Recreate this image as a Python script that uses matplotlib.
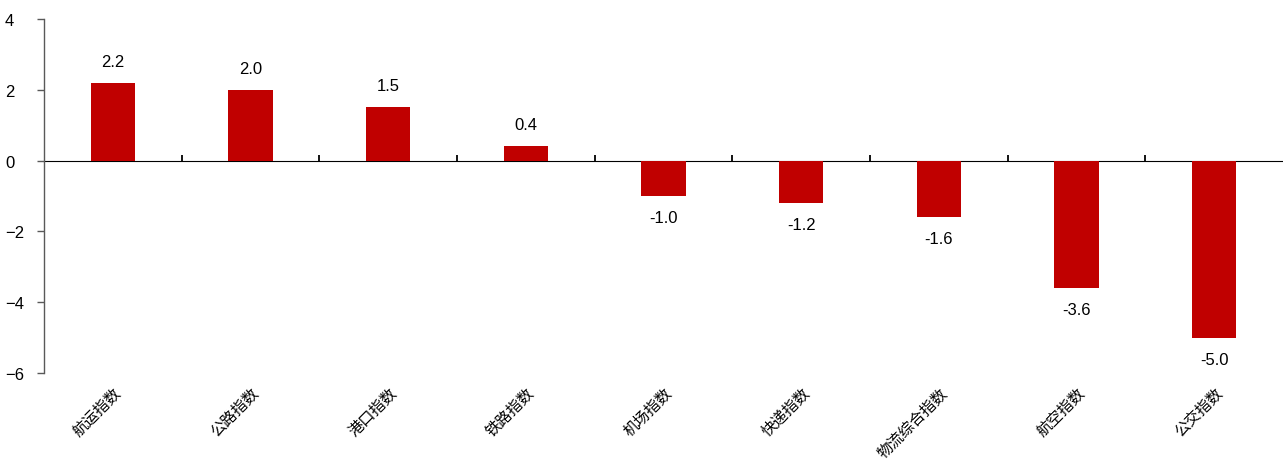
import numpy as np
import matplotlib.pyplot as plt

categories = ["航运指数", "公路指数", "港口指数", "铁路指数", "机场指数",
              "快递指数", "物流综合指数", "航空指数", "公交指数"]
values = [2.2, 2.0, 1.5, 0.4, -1.0, -1.2, -1.6, -3.6, -5.0]
y_ticks = [-6, -4, -2, 0, 2, 4]

plt.rcParams["font.family"] = ["Liberation Sans", "Noto Sans CJK SC", "DejaVu Sans"]

fig = plt.figure(figsize=(12.83, 4.64), dpi=100)
ax = fig.add_axes([0.0343, 0.194, 0.9657, 0.763])

x = np.arange(len(categories))
ax.bar(x, values, width=0.32, color="#C00000", zorder=2)

for xi, v in zip(x, values):
    off = 15.5 if v >= 0 else -15.5
    ax.annotate(f"{v:.1f}", (xi, v), xytext=(0, off), textcoords="offset points",
                ha="center", va="center", fontsize=12, color="#000000")

ymin, ymax = y_ticks[0], y_ticks[-1]
ax.set_ylim(ymin, ymax)
ax.set_xlim(-0.5, len(categories) - 0.5)
ax.set_yticks(y_ticks)
ax.tick_params(axis="y", length=5, width=1, color="#595959", labelsize=12, pad=23)
for lbl in ax.get_yticklabels():
    lbl.set_horizontalalignment("left")

ax.set_xticks(x)
ax.set_xticklabels(categories, rotation=45, ha="right", rotation_mode="anchor",
                   family=["Noto Sans CJK SC"], fontsize=11)
ax.tick_params(axis="x", length=0, pad=8)

for s in ["top", "right", "bottom"]:
    ax.spines[s].set_visible(False)
ax.spines["left"].set_color("#595959")
ax.spines["left"].set_linewidth(1)

# zero line with category separators
zero_frac = (0 - ymin) / (ymax - ymin)
sec = ax.secondary_xaxis(zero_frac)
sec.spines["bottom"].set_color("black")
sec.spines["bottom"].set_linewidth(1.3)
sec.set_xticks(x[:-1] + 0.5)
sec.set_xticklabels([])
sec.tick_params(axis="x", length=4, width=1.3, color="black", direction="out")

fig.savefig("out.png", dpi=100)
